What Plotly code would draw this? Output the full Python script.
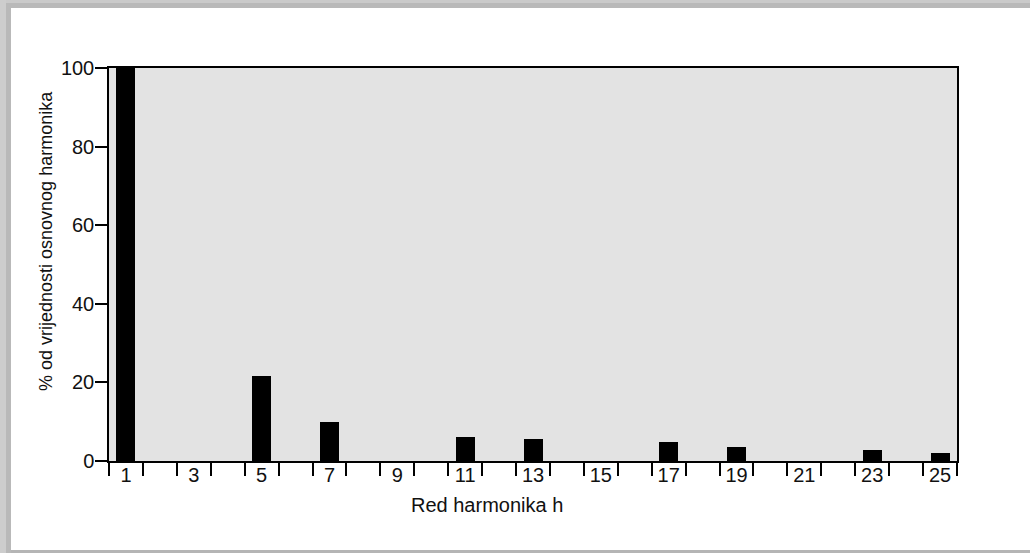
import plotly.graph_objects as go

# ---- data ----
harmonic_order = [1, 5, 7, 11, 13, 17, 19, 23, 25]
percent_of_fundamental = [100, 21.6, 10.0, 6.2, 5.7, 4.9, 3.6, 2.7, 2.0]
x_tick_values = [1, 3, 5, 7, 9, 11, 13, 15, 17, 19, 21, 23, 25]
x_tick_labels = [str(v) for v in x_tick_values]
y_tick_values = [0, 20, 40, 60, 80, 100]
x_title = "Red harmonika h"
y_title = "% od vrijednosti osnovnog harmonika"

W, H = 1030, 553
ML, MR, MT, MB = 109, 73, 68, 92
PW, PH = W - ML - MR, H - MT - MB


def px_x(px):
    return (px - ML) / PW


def px_y(py):
    return (H - MB - py) / PH


FONT = "Liberation Sans, Arial, sans-serif"

fig = go.Figure()
fig.add_trace(go.Bar(
    x=harmonic_order,
    y=percent_of_fundamental,
    width=0.56,
    marker=dict(color="black", line=dict(width=0)),
    hoverinfo="x+y",
))

shapes = [
    # picture frame: top band
    dict(type="rect", xref="paper", yref="paper", x0=px_x(0), x1=px_x(W), y0=px_y(0), y1=px_y(3),
         fillcolor="#cacaca", line=dict(width=0), layer="above"),
    dict(type="rect", xref="paper", yref="paper", x0=px_x(0), x1=px_x(W), y0=px_y(3), y1=px_y(8),
         fillcolor="#b9b9b9", line=dict(width=0), layer="above"),
    # left band
    dict(type="rect", xref="paper", yref="paper", x0=px_x(0), x1=px_x(6), y0=px_y(0), y1=px_y(H),
         fillcolor="#cdcdcd", line=dict(width=0), layer="above"),
    dict(type="rect", xref="paper", yref="paper", x0=px_x(6), x1=px_x(11), y0=px_y(8), y1=px_y(H),
         fillcolor="#b9b9b9", line=dict(width=0), layer="above"),
    # bottom thin line
    dict(type="rect", xref="paper", yref="paper", x0=px_x(11), x1=px_x(W), y0=px_y(550), y1=px_y(H),
         fillcolor="#b5b5b5", line=dict(width=0), layer="above"),
]

annotations = [
    dict(text=x_title, xref="paper", yref="paper", x=px_x(487), y=px_y(505),
         showarrow=False, xanchor="center", yanchor="middle",
         font=dict(family=FONT, size=20, color="#111")),
    dict(text=y_title, xref="paper", yref="paper", x=px_x(46), y=px_y(241),
         showarrow=False, xanchor="center", yanchor="middle", textangle=-90,
         font=dict(family=FONT, size=18, color="#111")),
]

fig.update_layout(
    width=W, height=H,
    margin=dict(l=ML, r=MR, t=MT, b=MB, pad=0),
    paper_bgcolor="white",
    plot_bgcolor="#e3e3e3",
    showlegend=False,
    bargap=0,
    shapes=shapes,
    annotations=annotations,
    font=dict(family=FONT, size=18, color="#111"),
)

fig.update_xaxes(
    range=[0.5, 25.5],
    tickmode="array",
    tickvals=x_tick_values,
    ticktext=x_tick_labels,
    ticks="",
    showgrid=False,
    zeroline=False,
    showline=True, linecolor="black", linewidth=1.5, mirror=True,
    tickfont=dict(family=FONT, size=20, color="#111"),
    ticklabelstandoff=-5,
    minor=dict(tickmode="linear", tick0=0.5, dtick=1, ticks="outside", ticklen=13,
               tickwidth=1.5, tickcolor="black", showgrid=False),
    fixedrange=True,
)
fig.update_yaxes(
    range=[0, 100],
    tickmode="array",
    tickvals=y_tick_values,
    ticks="outside", ticklen=12, tickwidth=1.5, tickcolor="black",
    showgrid=False,
    zeroline=False,
    showline=True, linecolor="black", linewidth=1.5, mirror=True,
    tickfont=dict(family=FONT, size=20, color="#111"),
    ticklabelstandoff=-3,
    fixedrange=True,
)

fig.write_html(
    "out.html",
    config={"displayModeBar": False},
    post_script=(
        "document.documentElement.style.overflow='hidden';"
        "document.documentElement.style.background='white';"
        "document.body.style.margin='0';document.body.style.overflow='hidden';"
    ),
)
